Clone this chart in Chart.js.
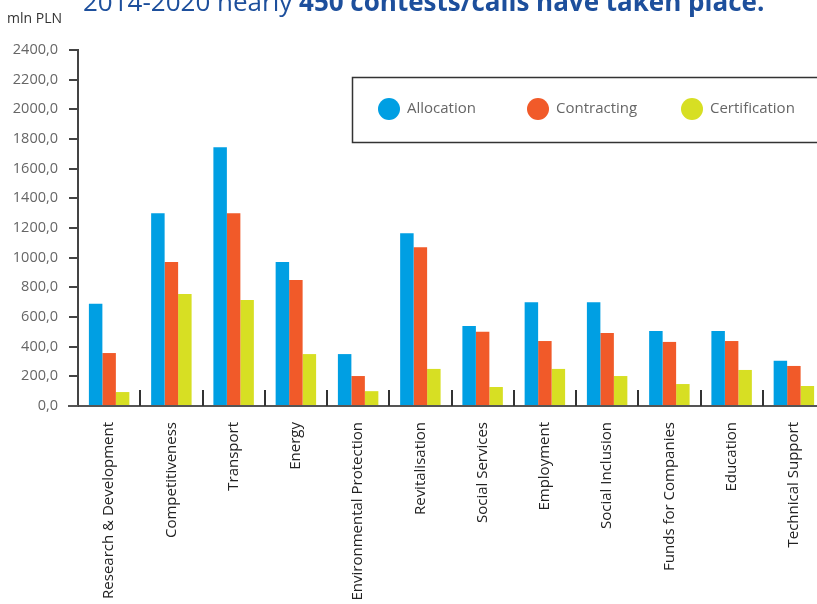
<!DOCTYPE html>
<html>
<head>
<meta charset="utf-8">
<script src="https://cdn.jsdelivr.net/npm/chart.js@4.4.1/dist/chart.umd.min.js"></script>
<style>
    body { margin: 0; overflow: hidden; background: #ffffff; }
    #wrap { position: absolute; left: 0; top: 0; }
</style>
</head>
<body>
<div id="wrap"><canvas id="myChart" width="830" height="604"></canvas></div>
<script>
const categories = [
    'Research & Development', 'Competitiveness', 'Transport', 'Energy',
    'Environmental Protection', 'Revitalisation', 'Social Services', 'Employment',
    'Social Inclusion', 'Funds for Companies', 'Education', 'Technical Support'
];
const allocation    = [690, 1300, 1745, 970, 350, 1165, 540, 700, 700, 505, 505, 305];
const contracting   = [357, 970, 1300, 850, 202, 1070, 500, 438, 492, 432, 438, 270];
const certification = [94, 755, 715, 350, 100, 250, 128, 250, 202, 148, 243, 135];
const seriesNames = ['Allocation', 'Contracting', 'Certification'];
const seriesColors = ['#009fe3', '#f15a29', '#d7df23'];
const yMax = 2400;
const yStep = 200;

const titleNormal = '2014-2020 nearly ';
const titleBold = '450 contests/calls have taken place.';
const unitLabel = 'mln PLN';

const FONT = '"Open Sans", "DejaVu Sans", sans-serif';

function formatTick(value) {
    return Number(value).toFixed(1).replace('.', ',');
}

const decorations = {
    id: 'decorations',
    afterDatasetsDraw(chart) {
        const ctx = chart.ctx;
        const xs = chart.scales.x;
        const bottom = chart.chartArea.bottom;
        ctx.save();
        // group separators standing on the axis
        ctx.strokeStyle = '#333333';
        ctx.lineWidth = 2;
        for (let i = 1; i < categories.length; i++) {
            const x = Math.round((xs.getPixelForValue(i - 1) + xs.getPixelForValue(i)) / 2);
            ctx.beginPath();
            ctx.moveTo(x, bottom - 16);
            ctx.lineTo(x, bottom);
            ctx.stroke();
        }
        // x axis stub left of the y axis
        ctx.strokeStyle = '#555555';
        ctx.beginPath();
        ctx.moveTo(chart.chartArea.left - 10, bottom);
        ctx.lineTo(chart.chartArea.left, bottom);
        ctx.stroke();
        ctx.restore();
    },
    afterDraw(chart) {
        const ctx = chart.ctx;
        ctx.save();
        // title (cut off at the top)
        ctx.fillStyle = '#1d4f9c';
        ctx.textBaseline = 'alphabetic';
        ctx.font = '26px ' + FONT;
        ctx.fillText(titleNormal, 83, 11);
        const w = ctx.measureText(titleNormal).width;
        ctx.font = 'bold 26px ' + FONT;
        ctx.fillText(titleBold, 83 + w, 11);

        // unit label
        ctx.fillStyle = '#333333';
        ctx.font = '14px ' + FONT;
        ctx.textBaseline = 'middle';
        ctx.fillText(unitLabel, 7, 19);

        // legend box
        ctx.strokeStyle = '#333333';
        ctx.lineWidth = 1.5;
        ctx.strokeRect(352.5, 77.5, 500, 65);
        const itemX = [389, 538, 692];
        chart.data.datasets.forEach((ds, i) => {
            ctx.fillStyle = ds.backgroundColor;
            ctx.beginPath();
            ctx.arc(itemX[i], 109, 11, 0, Math.PI * 2);
            ctx.fill();
            ctx.fillStyle = '#666666';
            ctx.font = '15px ' + FONT;
            ctx.fillText(ds.label, itemX[i] + 18, 109);
        });
        ctx.restore();
    }
};

const ctx = document.getElementById('myChart');
const myChart = new Chart(ctx, {
    type: 'bar',
    data: {
        labels: categories,
        datasets: [allocation, contracting, certification].map((values, i) => ({
            label: seriesNames[i],
            data: values,
            backgroundColor: seriesColors[i],
            borderWidth: 0,
            categoryPercentage: 0.65,
            barPercentage: 1.0
        }))
    },
    plugins: [decorations],
    options: {
        responsive: false,
        animation: false,
        devicePixelRatio: 1,
        layout: { padding: { top: 50, right: 5, left: 0, bottom: 0 } },
        plugins: {
            legend: { display: false },
            tooltip: { enabled: false }
        },
        scales: {
            x: {
                grid: { display: false },
                border: { color: '#555555', width: 2 },
                ticks: {
                    autoSkip: false,
                    maxRotation: 90,
                    minRotation: 90,
                    padding: 8,
                    color: '#222222',
                    font: { family: FONT, size: 15 }
                },
                afterFit(scale) { scale.height = 198; }
            },
            y: {
                min: 0,
                max: yMax,
                grid: { drawOnChartArea: false, drawTicks: true, tickLength: 9, color: '#444444', lineWidth: 2 },
                border: { color: '#444444', width: 2 },
                ticks: {
                    stepSize: yStep,
                    padding: 11,
                    color: '#666666',
                    font: { family: FONT, size: 14.5 },
                    callback: formatTick
                },
                afterFit(scale) { scale.width = 78; }
            }
        }
    }
});
</script>
</body>
</html>
